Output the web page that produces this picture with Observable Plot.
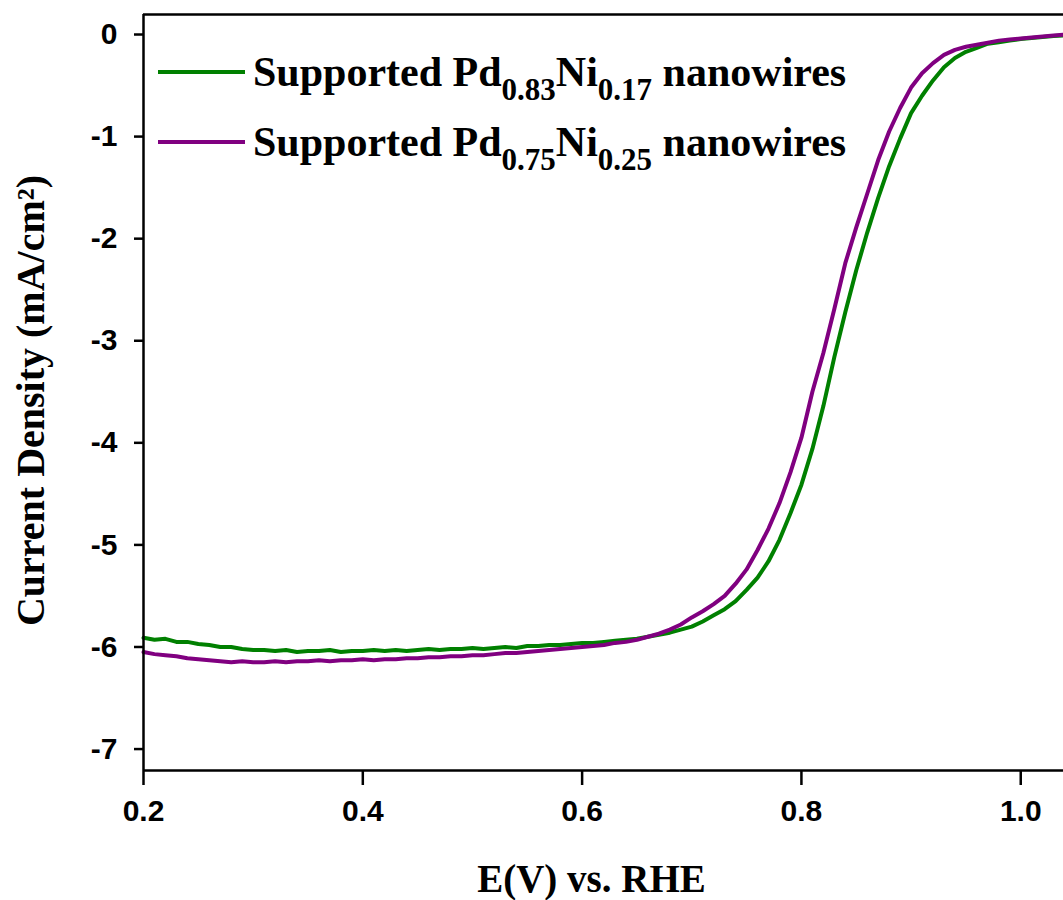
<!DOCTYPE html>
<html>
<head>
<meta charset="utf-8">
<script src="https://cdn.jsdelivr.net/npm/d3@7"></script>
<script src="https://cdn.jsdelivr.net/npm/@observablehq/plot@0.6"></script>
<style>
  html, body { margin: 0; padding: 0; background: #fff; }
  #wrap { position: relative; width: 1063px; height: 900px; overflow: hidden; }
  .sw { position: absolute; left: 158px; width: 87px; height: 4px; }
  .lg { position: absolute; left: 253px; font-family: "Liberation Serif", "Times New Roman", serif;
        font-weight: bold; font-size: 42px; line-height: 42px; white-space: nowrap; color: #000; }
  .lg .sub { font-size: 31px; position: relative; top: 14px; }
</style>
</head>
<body>
<div id="wrap"></div>
<script>
// ---- data ----
const potential = [
  0.20,0.21,0.22,0.23,0.24,0.25,0.26,0.27,0.28,0.29,
  0.30,0.31,0.32,0.33,0.34,0.35,0.36,0.37,0.38,0.39,
  0.40,0.41,0.42,0.43,0.44,0.45,0.46,0.47,0.48,0.49,
  0.50,0.51,0.52,0.53,0.54,0.55,0.56,0.57,0.58,0.59,
  0.60,0.61,0.62,0.63,0.64,0.65,0.66,0.67,0.68,0.69,
  0.70,0.71,0.72,0.73,0.74,0.75,0.76,0.77,0.78,0.79,
  0.80,0.81,0.82,0.83,0.84,0.85,0.86,0.87,0.88,0.89,
  0.90,0.91,0.92,0.93,0.94,0.95,0.96,0.97,0.98,0.99,
  1.00,1.01,1.02,1.03,1.04
];
const pd83ni17 = [
  -5.91,-5.93,-5.92,-5.95,-5.95,-5.97,-5.98,-6.00,-6.00,-6.02,
  -6.03,-6.03,-6.04,-6.03,-6.05,-6.04,-6.04,-6.03,-6.05,-6.04,
  -6.04,-6.03,-6.04,-6.03,-6.04,-6.03,-6.02,-6.03,-6.02,-6.02,
  -6.01,-6.02,-6.01,-6.00,-6.01,-5.99,-5.99,-5.98,-5.98,-5.97,
  -5.96,-5.96,-5.95,-5.94,-5.93,-5.92,-5.90,-5.88,-5.86,-5.83,
  -5.80,-5.75,-5.69,-5.63,-5.55,-5.44,-5.32,-5.16,-4.95,-4.69,
  -4.41,-4.06,-3.64,-3.16,-2.72,-2.31,-1.94,-1.60,-1.29,-1.02,
  -0.77,-0.60,-0.45,-0.32,-0.23,-0.17,-0.13,-0.09,-0.075,-0.06,
  -0.045,-0.035,-0.025,-0.015,-0.01
];
const pd75ni25 = [
  -6.05,-6.07,-6.08,-6.09,-6.11,-6.12,-6.13,-6.14,-6.15,-6.14,
  -6.15,-6.15,-6.14,-6.15,-6.14,-6.14,-6.13,-6.14,-6.13,-6.13,
  -6.12,-6.13,-6.12,-6.12,-6.11,-6.11,-6.10,-6.10,-6.09,-6.09,
  -6.08,-6.08,-6.07,-6.06,-6.06,-6.05,-6.04,-6.03,-6.02,-6.01,
  -6.00,-5.99,-5.98,-5.96,-5.95,-5.93,-5.90,-5.87,-5.83,-5.78,
  -5.71,-5.65,-5.58,-5.50,-5.38,-5.24,-5.05,-4.84,-4.59,-4.29,
  -3.95,-3.50,-3.12,-2.69,-2.24,-1.89,-1.56,-1.23,-0.95,-0.72,
  -0.52,-0.38,-0.28,-0.20,-0.15,-0.12,-0.10,-0.08,-0.06,-0.05,
  -0.04,-0.03,-0.02,-0.01,0.00
];
const seriesNames = ["Pd0.83Ni0.17", "Pd0.75Ni0.25"];
const seriesColors = ["#008000", "#800080"];
const xTicks = [0.2, 0.4, 0.6, 0.8, 1.0];
const yTicks = [0, -1, -2, -3, -4, -5, -6, -7];
const xDomain = [0.2, 1.039];
const yDomain = [-7.21, 0.196];
const xTitle = "E(V) vs. RHE";
const yTitle = "Current Density (mA/cm²)";

const rows = [];
potential.forEach((e, i) => {
  rows.push({E: e, j: pd83ni17[i], s: seriesNames[0]});
  rows.push({E: e, j: pd75ni25[i], s: seriesNames[1]});
});

const sans = "'Liberation Sans', Arial, sans-serif";
const serif = "'Liberation Serif', 'Times New Roman', serif";

const chart = Plot.plot({
  width: 1063,
  height: 900,
  marginLeft: 143,
  marginRight: 0,
  marginTop: 14,
  marginBottom: 130,
  style: {fontFamily: sans, fontWeight: "bold", color: "#000", background: "#fff"},
  x: {domain: xDomain},
  y: {domain: yDomain},
  color: {domain: seriesNames, range: seriesColors},
  marks: [
    Plot.line(rows, {x: "E", y: "j", z: "s", stroke: "s", strokeWidth: 4, curve: "linear"}),
    Plot.ruleX([xDomain[0]], {stroke: "#000", strokeWidth: 2.5}),
    Plot.ruleY([yDomain[0]], {stroke: "#000", strokeWidth: 2.5}),
    Plot.ruleY([yDomain[1]], {stroke: "#000", strokeWidth: 2.5}),
    Plot.axisX({ticks: xTicks, tickFormat: d3.format(".1f"), tickSize: 15, tickPadding: 14,
      strokeWidth: 2.5, fontSize: 30, fontWeight: "bold", label: null}),
    Plot.axisY({ticks: yTicks, tickFormat: d => String(d), tickSize: 9, tickPadding: 17,
      strokeWidth: 2.5, fontSize: 30, fontWeight: "bold", label: null}),
    Plot.text([xTitle], {text: d => d, frameAnchor: "bottom", textAnchor: "middle", lineAnchor: "middle",
      dx: -12, dy: 109, fontSize: 39, fontWeight: "bold", fontFamily: serif}),
    Plot.text([yTitle], {text: d => d, frameAnchor: "left", textAnchor: "middle", lineAnchor: "middle", rotate: -90,
      dx: -112, dy: 8, fontSize: 40, fontWeight: "bold", fontFamily: serif})
  ]
});

const wrap = document.getElementById("wrap");
wrap.appendChild(chart);

// legend (HTML overlay in the upper-left of the plot area)
const legendItems = [
  {color: seriesColors[0], a: "0.83", b: "0.17"},
  {color: seriesColors[1], a: "0.75", b: "0.25"}
];
legendItems.forEach((it, i) => {
  const sw = document.createElement("div");
  sw.className = "sw";
  sw.style.top = (70 + i * 70) + "px";
  sw.style.background = it.color;
  wrap.appendChild(sw);
  const t = document.createElement("div");
  t.className = "lg";
  t.style.top = (51 + i * 70) + "px";
  t.innerHTML = `Supported Pd<span class="sub">${it.a}</span>Ni<span class="sub">${it.b}</span> nanowires`;
  wrap.appendChild(t);
});
</script>
</body>
</html>
